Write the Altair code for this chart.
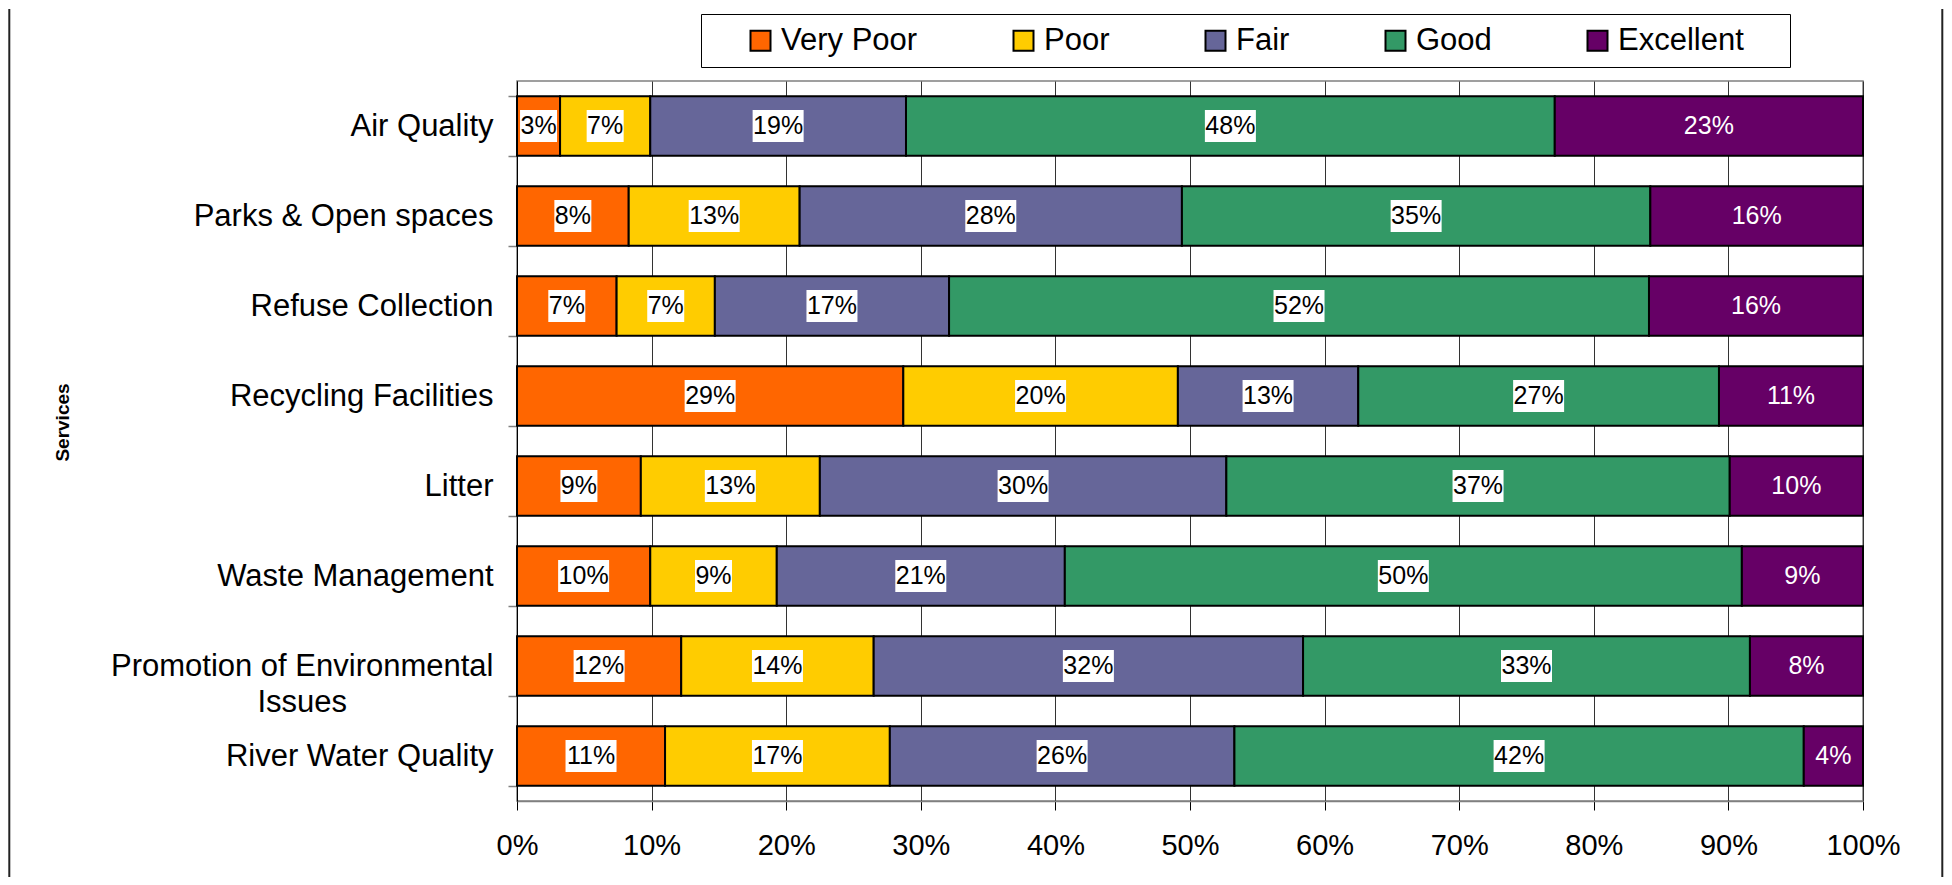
import altair as alt
import pandas as pd

FONT = "Liberation Sans, Arial, Helvetica, sans-serif"

services = [
    "Air Quality",
    "Parks & Open spaces",
    "Refuse Collection",
    "Recycling Facilities",
    "Litter",
    "Waste Management",
    "Promotion of Environmental Issues",
    "River Water Quality",
]
ratings = ["Very Poor", "Poor", "Fair", "Good", "Excellent"]
colors = ["#FF6600", "#FFCC00", "#666699", "#339966", "#660066"]

very_poor = [3.2, 8.3, 7.4, 28.7, 9.2, 9.9, 12.2, 11.0]
poor = [6.7, 12.7, 7.3, 20.4, 13.3, 9.4, 14.3, 16.7]
fair = [19.0, 28.4, 17.4, 13.4, 30.2, 21.4, 31.9, 25.6]
good = [48.2, 34.8, 52.0, 26.8, 37.4, 50.3, 33.2, 42.3]
excellent = [22.9, 15.8, 15.9, 10.7, 9.9, 9.0, 8.4, 4.4]

x_ticks = [0, 10, 20, 30, 40, 50, 60, 70, 80, 90, 100]

series = [very_poor, poor, fair, good, excellent]

rows = []
for i, s in enumerate(services):
    start = 0.0
    for r, vals in zip(ratings, series):
        v = vals[i]
        lab = f"{round(v):.0f}%"
        rows.append(
            dict(service=s, rating=r, value=v, start=start, end=start + v,
                 mid=start + v / 2, label=lab, nchar=len(lab))
        )
        start += v
df = pd.DataFrame(rows)

nb = "\u00a0"
zw = "\u200b"
y_label_expr = (
    "datum.label == 'Promotion of Environmental Issues' ? "
    f"['Promotion of Environmental', 'Issues{nb * 17}{zw}'] : datum.label"
)

x_axis = alt.Axis(
    values=x_ticks, labelExpr="datum.value + '%'", title=None, grid=True,
    gridColor="#333333", gridWidth=1, tickSize=9, tickColor="black", tickWidth=1,
    labelPadding=21, labelFontSize=29, labelFont=FONT, labelColor="black",
    labelFlush=False, domainColor="#808080", domainWidth=1.5,
)
x_scale = alt.Scale(domain=[0, 100], nice=False, zero=True)

y_enc = alt.Y(
    "service:N", sort=services,
    scale=alt.Scale(paddingInner=0.34, paddingOuter=0.17),
    axis=alt.Axis(
        title="Services", titleFontSize=19, titleFontWeight="bold", titleFont=FONT,
        titleX=-455, titleY=341, titleAngle=270, titleAlign="center",
        titleBaseline="middle", titleColor="black",
        labelFontSize=31, labelFont=FONT, labelColor="black", labelPadding=15,
        labelLimit=700, labelExpr=y_label_expr, labelLineHeight=36,
        tickBand="extent", tickSize=9, tickColor="#808080", tickWidth=1.5,
        domainColor="black", domainWidth=1,
    ),
)


def x_enc(field):
    return alt.X(field, scale=x_scale, axis=x_axis, title=None)


base = alt.Chart(df)

bars = base.mark_bar(stroke="black", strokeWidth=2).encode(
    x=x_enc("start:Q"),
    x2="end:Q",
    y=y_enc,
    color=alt.Color(
        "rating:N",
        scale=alt.Scale(domain=ratings, range=colors),
        sort=ratings,
        legend=alt.Legend(
            orient="none", legendX=184, legendY=-67, direction="horizontal",
            columns=5, title=nb, titleOrient="left", titleFontSize=30,
            titlePadding=33, symbolType="square", symbolSize=400,
            symbolStrokeColor="black", symbolStrokeWidth=2, symbolOpacity=1,
            labelFontSize=31, labelFont=FONT, labelColor="black", labelOffset=5,
            labelLimit=400, columnPadding=90, padding=11,
            strokeColor="black", fillColor="white",
            labelExpr=f"datum.label == 'Excellent' ? 'Excellent{nb * 4}{zw}' : datum.label",
        ),
    ),
)

box2 = base.transform_filter(
    "datum.rating != 'Excellent' && datum.nchar == 2"
).mark_point(
    shape="M-1,-0.865L1,-0.865L1,0.865L-1,0.865Z", filled=True, fill="white",
    opacity=1, size=1369, strokeWidth=0,
).encode(x=x_enc("mid:Q"), y=y_enc)

box3 = base.transform_filter(
    "datum.rating != 'Excellent' && datum.nchar == 3"
).mark_point(
    shape="M-1,-0.627L1,-0.627L1,0.627L-1,0.627Z", filled=True, fill="white",
    opacity=1, size=2601, strokeWidth=0,
).encode(x=x_enc("mid:Q"), y=y_enc)

txt_black = base.transform_filter("datum.rating != 'Excellent'").mark_text(
    font=FONT, fontSize=25, color="black", align="center", baseline="middle"
).encode(x=x_enc("mid:Q"), y=y_enc, text="label:N")

txt_white = base.transform_filter("datum.rating == 'Excellent'").mark_text(
    font=FONT, fontSize=25, color="white", align="center", baseline="middle"
).encode(x=x_enc("mid:Q"), y=y_enc, text="label:N")

frame_df = pd.DataFrame({"k": [0]})
border_l = alt.Chart(frame_df).mark_rule(color="#222222", strokeWidth=2).encode(
    x=alt.value(-507.7), y=alt.value(-72), y2=alt.value(796)
)
border_r = alt.Chart(frame_df).mark_rule(color="#222222", strokeWidth=2).encode(
    x=alt.value(1425.3), y=alt.value(-72), y2=alt.value(796)
)

chart = (
    alt.layer(bars, box2, box3, txt_black, txt_white, border_l, border_r)
    .properties(width=1346, height=720, padding=0, background="white")
    .configure_view(stroke="#808080", strokeWidth=1.5)
)

chart.save("out.html", embed_options={"renderer": "svg", "actions": False})
